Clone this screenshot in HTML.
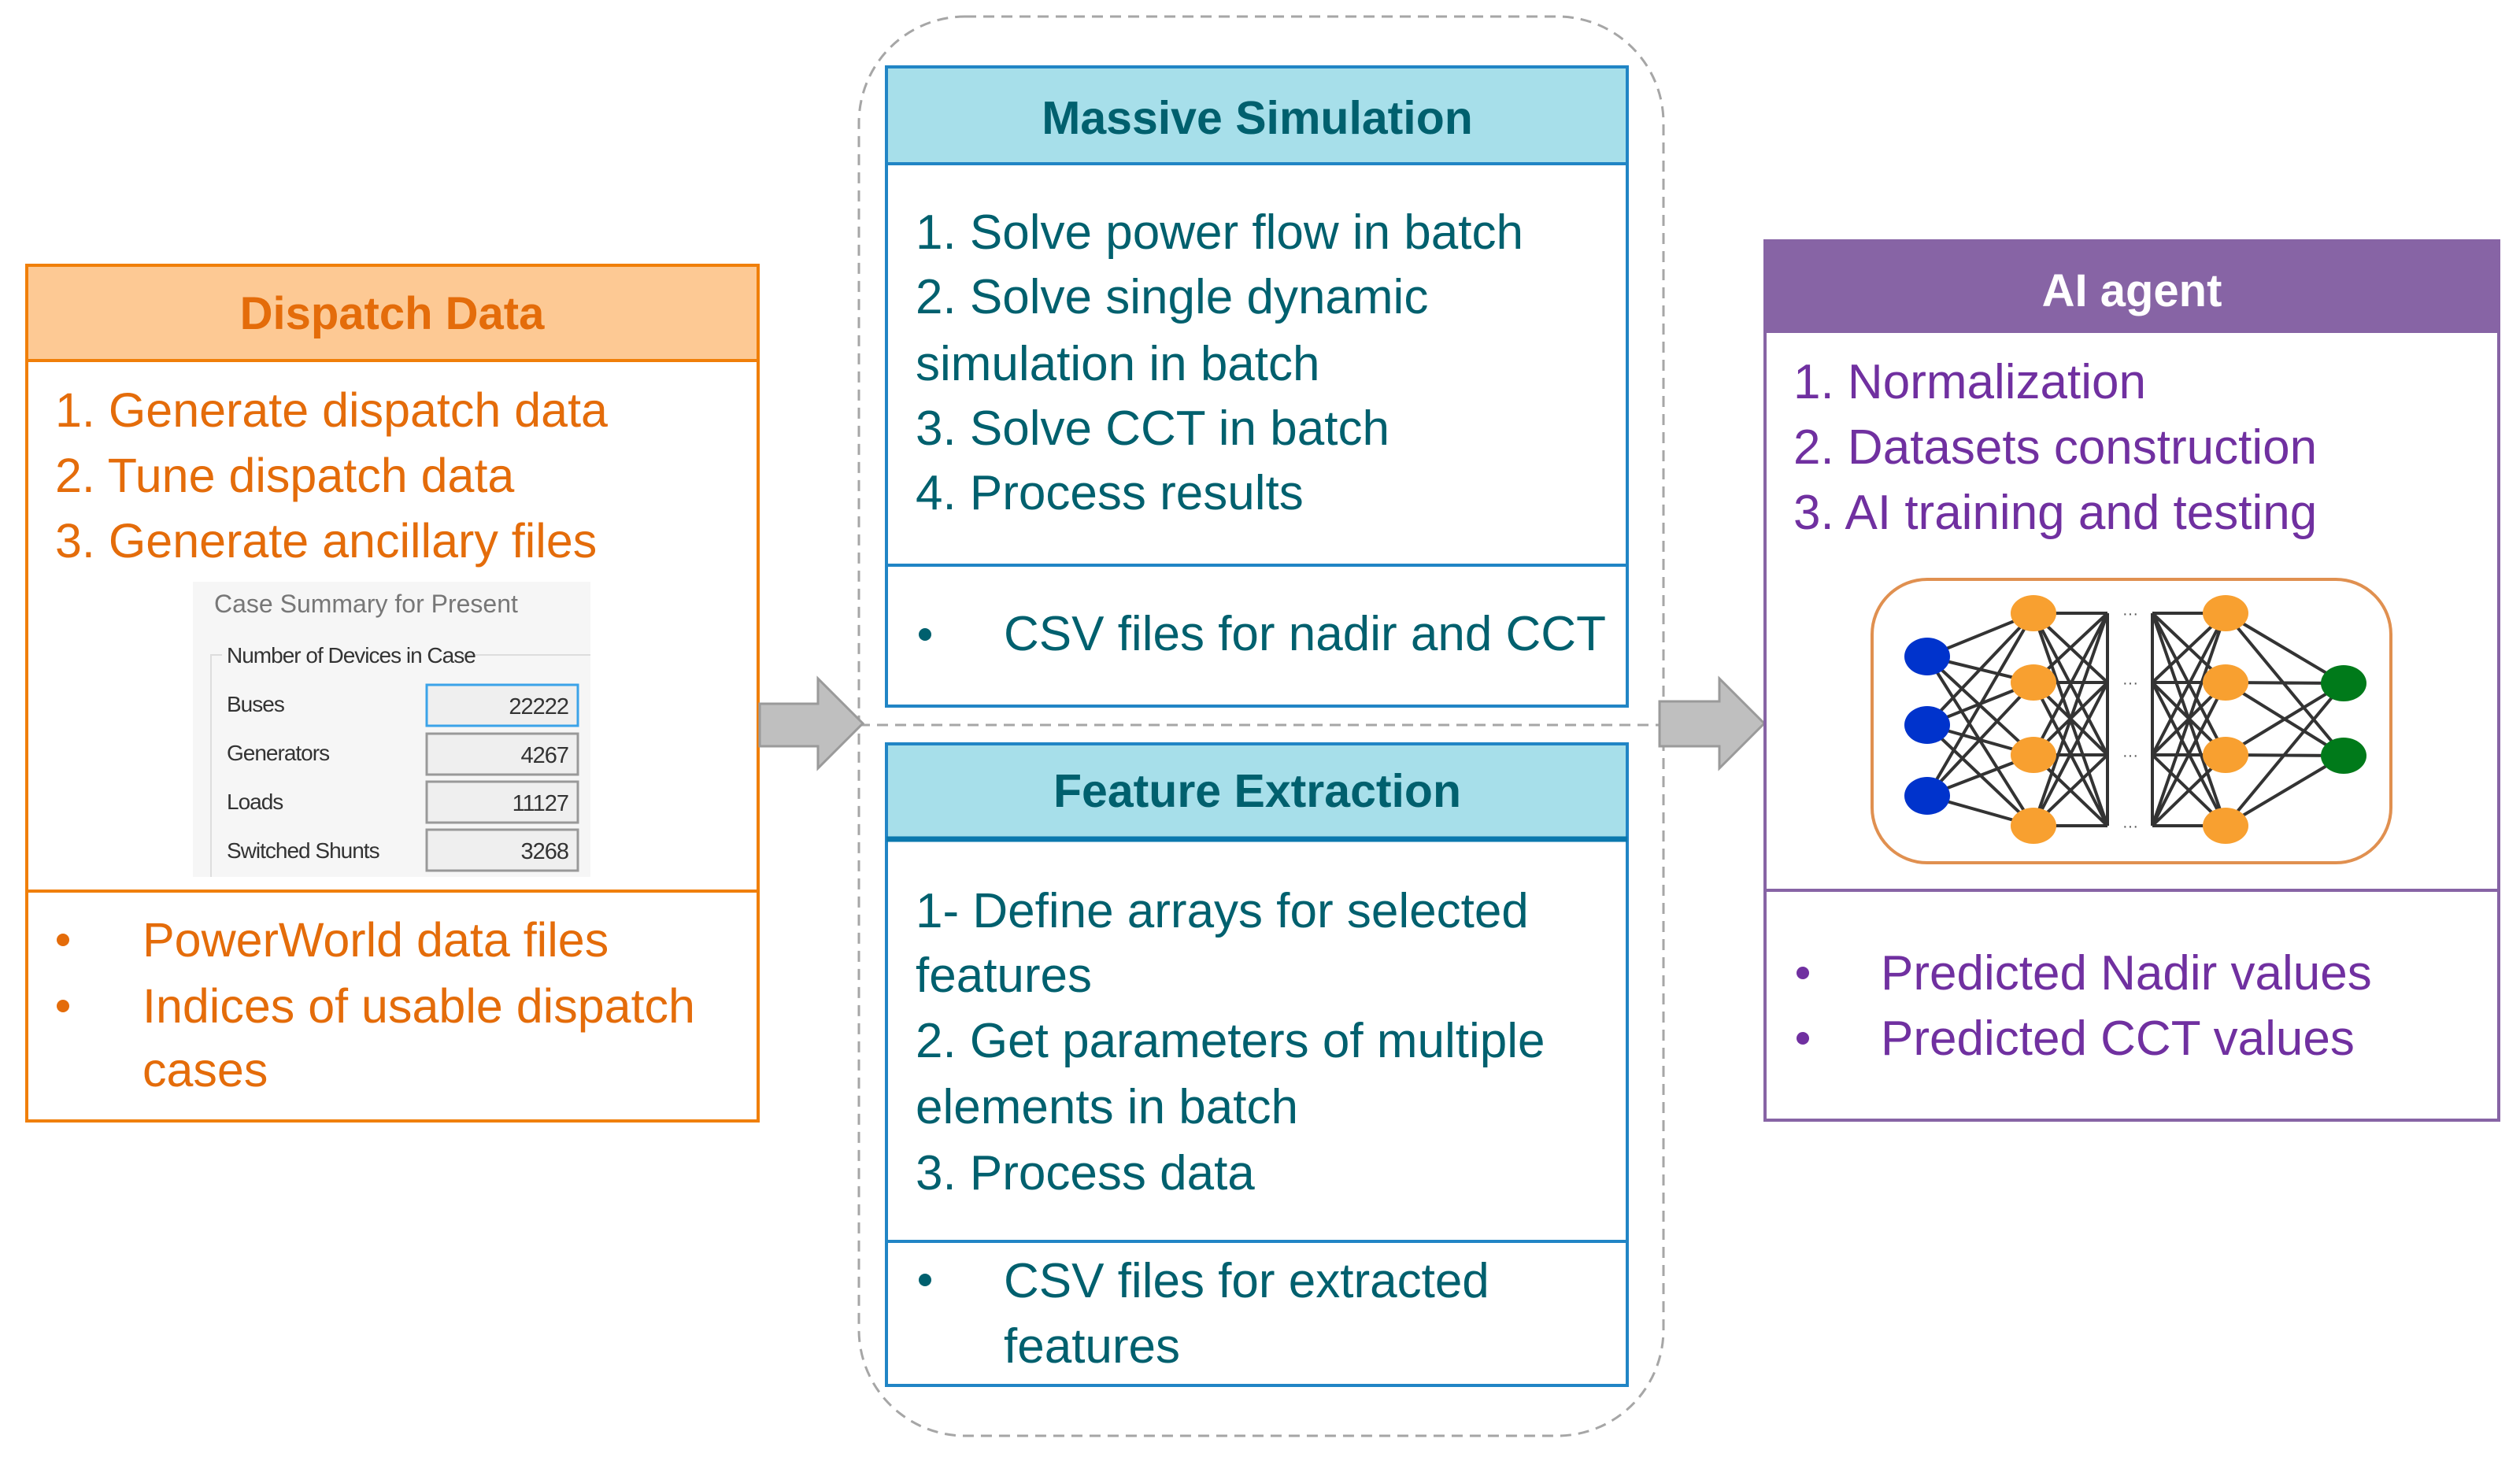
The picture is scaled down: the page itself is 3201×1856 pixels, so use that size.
<!DOCTYPE html>
<html><head><meta charset="utf-8"><style>html,body{margin:0;padding:0;background:#fff}svg{display:block}</style></head>
<body>
<svg width="3201" height="1856" viewBox="0 0 3201 1856" xmlns="http://www.w3.org/2000/svg" font-family="Liberation Sans, sans-serif">
<rect x="1091" y="21" width="1022" height="1803" rx="135" ry="135" fill="none" stroke="#a6a6a6" stroke-width="3" stroke-dasharray="14,9"/>
<line x1="1091" y1="921" x2="2110" y2="921" stroke="#a6a6a6" stroke-width="3" stroke-dasharray="14,9"/>

<rect x="34" y="337" width="929" height="1087" fill="#fff" stroke="#f07f09" stroke-width="4"/>
<rect x="34" y="337" width="929" height="121" fill="#fdc994" stroke="#f07f09" stroke-width="4"/>
<line x1="34" y1="1132" x2="963" y2="1132" stroke="#f07f09" stroke-width="4"/>
<text x="498" y="418" font-size="58" font-weight="bold" fill="#e46c0a" text-anchor="middle">Dispatch Data</text>
<g font-size="61" fill="#e46c0a">
<text x="70" y="542">1. Generate dispatch data</text>
<text x="70" y="625">2. Tune dispatch data</text>
<text x="70" y="708">3. Generate ancillary files</text>
<text x="181" y="1215">PowerWorld data files</text>
<text x="181" y="1299">Indices of usable dispatch</text>
<text x="181" y="1380">cases</text>
</g>
<circle cx="80" cy="1194" r="8" fill="#e46c0a"/>
<circle cx="80" cy="1278" r="8" fill="#e46c0a"/>
<rect x="245" y="739" width="505" height="375" fill="#f6f6f6"/>
<text x="272" y="778" font-size="32" fill="#777">Case Summary for Present</text>
<path d="M268 1114 V832 H282 M586 832 H750" fill="none" stroke="#ddd" stroke-width="2"/>
<g font-size="28" fill="#333" letter-spacing="-1">
<text x="288" y="842">Number of Devices in Case</text>
<text x="288" y="904">Buses</text>
<text x="288" y="966">Generators</text>
<text x="288" y="1028">Loads</text>
<text x="288" y="1090">Switched Shunts</text>
</g>
<rect x="542" y="870" width="192" height="52" fill="#efefef" stroke="#3ba3e8" stroke-width="3"/>
<rect x="542" y="932" width="192" height="52" fill="#efefef" stroke="#999" stroke-width="3"/>
<rect x="542" y="993" width="192" height="52" fill="#efefef" stroke="#999" stroke-width="3"/>
<rect x="542" y="1054" width="192" height="52" fill="#efefef" stroke="#999" stroke-width="3"/>
<g font-size="29" fill="#333" text-anchor="end" letter-spacing="-1">
<text x="722" y="907">22222</text>
<text x="722" y="969">4267</text>
<text x="722" y="1030">11127</text>
<text x="722" y="1091">3268</text>
</g>

<path d="M965 894 H1039 V862 L1096 919 L1039 976 V948 H965 Z" fill="#bfbfbf" stroke="#9a9a9a" stroke-width="3"/>
<path d="M2108 891 H2184 V862 L2241 919 L2184 976 V948 H2108 Z" fill="#bfbfbf" stroke="#9a9a9a" stroke-width="3"/>

<rect x="1126" y="85" width="941" height="812" fill="#fff" stroke="#2185c5" stroke-width="4"/>
<rect x="1126" y="85" width="941" height="123" fill="#a7dfea" stroke="#2185c5" stroke-width="4"/>
<line x1="1126" y1="718" x2="2067" y2="718" stroke="#2185c5" stroke-width="4"/>
<text x="1597" y="170" font-size="59" font-weight="bold" fill="#00606e" text-anchor="middle">Massive Simulation</text>
<g font-size="62" fill="#00606e">
<text x="1163" y="316">1. Solve power flow in batch</text>
<text x="1163" y="398">2. Solve single dynamic</text>
<text x="1163" y="483">simulation in batch</text>
<text x="1163" y="565">3. Solve CCT in batch</text>
<text x="1163" y="647">4. Process results</text>
<text x="1275" y="826">CSV files for nadir and CCT</text>
</g>
<circle cx="1175" cy="806" r="8" fill="#00606e"/>

<rect x="1126" y="945" width="941" height="815" fill="#fff" stroke="#2185c5" stroke-width="4"/>
<rect x="1126" y="945" width="941" height="121" fill="#a7dfea" stroke="#2185c5" stroke-width="4"/>
<line x1="1126" y1="1066" x2="2067" y2="1066" stroke="#0a78ad" stroke-width="7"/>
<line x1="1126" y1="1577" x2="2067" y2="1577" stroke="#2185c5" stroke-width="4"/>
<text x="1597" y="1025" font-size="59" font-weight="bold" fill="#00606e" text-anchor="middle">Feature Extraction</text>
<g font-size="62" fill="#00606e">
<text x="1163" y="1178">1- Define arrays for selected</text>
<text x="1163" y="1260">features</text>
<text x="1163" y="1343">2.  Get parameters of multiple</text>
<text x="1163" y="1427">elements in batch</text>
<text x="1163" y="1511">3. Process data</text>
<text x="1275" y="1648">CSV files for extracted</text>
<text x="1275" y="1731">features</text>
</g>
<circle cx="1175" cy="1626" r="8" fill="#00606e"/>

<rect x="2242" y="306" width="932" height="1117" fill="#fff" stroke="#8764a5" stroke-width="4"/>
<rect x="2242" y="306" width="932" height="117" fill="#8764a5"/>
<line x1="2242" y1="1131" x2="3174" y2="1131" stroke="#8764a5" stroke-width="4"/>
<text x="2708" y="389" font-size="58" font-weight="bold" fill="#fff" text-anchor="middle">AI agent</text>
<g font-size="62" fill="#7030a0">
<text x="2278" y="506">1. Normalization</text>
<text x="2278" y="589">2. Datasets construction</text>
<text x="2278" y="672">3. AI training and testing</text>
<text x="2389" y="1257">Predicted Nadir values</text>
<text x="2389" y="1340">Predicted CCT values</text>
</g>
<circle cx="2290" cy="1236" r="8" fill="#7030a0"/>
<circle cx="2290" cy="1319" r="8" fill="#7030a0"/>

<rect x="2378" y="736" width="659" height="360" rx="70" ry="70" fill="#fff" stroke="#e09050" stroke-width="4"/>
<g stroke="#333" stroke-width="4">
<path d="M2448 834 L2583 779 M2448 834 L2583 867 M2448 834 L2583 959 M2448 834 L2583 1049
M2448 921 L2583 779 M2448 921 L2583 867 M2448 921 L2583 959 M2448 921 L2583 1049
M2448 1011 L2583 779 M2448 1011 L2583 867 M2448 1011 L2583 959 M2448 1011 L2583 1049"/>
<path d="M2583 779 L2677 779 M2583 779 L2677 867 M2583 779 L2677 959 M2583 779 L2677 1049
M2583 867 L2677 779 M2583 867 L2677 867 M2583 867 L2677 959 M2583 867 L2677 1049
M2583 959 L2677 779 M2583 959 L2677 867 M2583 959 L2677 959 M2583 959 L2677 1049
M2583 1049 L2677 779 M2583 1049 L2677 867 M2583 1049 L2677 959 M2583 1049 L2677 1049
M2677 779 V1049"/>
<path d="M2827 779 L2734 779 M2827 779 L2734 867 M2827 779 L2734 959 M2827 779 L2734 1049
M2827 867 L2734 779 M2827 867 L2734 867 M2827 867 L2734 959 M2827 867 L2734 1049
M2827 959 L2734 779 M2827 959 L2734 867 M2827 959 L2734 959 M2827 959 L2734 1049
M2827 1049 L2734 779 M2827 1049 L2734 867 M2827 1049 L2734 959 M2827 1049 L2734 1049
M2734 779 V1049"/>
<path d="M2827 779 L2977 868 M2827 779 L2977 960 M2827 867 L2977 868 M2827 867 L2977 960
M2827 959 L2977 868 M2827 959 L2977 960 M2827 1049 L2977 868 M2827 1049 L2977 960"/>
</g>
<g fill="#555" font-size="20" text-anchor="middle"><text x="2706" y="786">···</text><text x="2706" y="874">···</text><text x="2706" y="966">···</text><text x="2706" y="1056">···</text></g>
<g fill="#0033cc"><ellipse cx="2448" cy="834" rx="29" ry="24"/><ellipse cx="2448" cy="921" rx="29" ry="24"/><ellipse cx="2448" cy="1011" rx="29" ry="24"/></g>
<g fill="#f8a030"><ellipse cx="2583" cy="779" rx="29" ry="23"/><ellipse cx="2583" cy="867" rx="29" ry="23"/><ellipse cx="2583" cy="959" rx="29" ry="23"/><ellipse cx="2583" cy="1049" rx="29" ry="23"/>
<ellipse cx="2827" cy="779" rx="29" ry="23"/><ellipse cx="2827" cy="867" rx="29" ry="23"/><ellipse cx="2827" cy="959" rx="29" ry="23"/><ellipse cx="2827" cy="1049" rx="29" ry="23"/></g>
<g fill="#007a1a"><ellipse cx="2977" cy="868" rx="29" ry="23"/><ellipse cx="2977" cy="960" rx="29" ry="23"/></g>
</svg>
</body></html>
